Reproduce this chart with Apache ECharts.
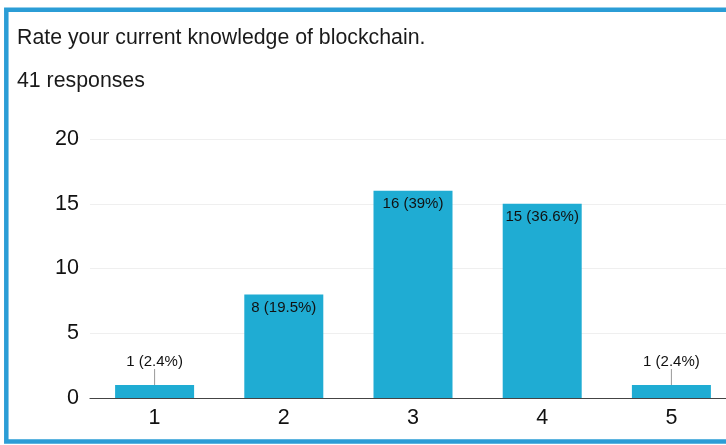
<!DOCTYPE html>
<html>
<head>
<meta charset="utf-8">
<script src="https://cdn.jsdelivr.net/npm/echarts@6/dist/echarts.min.js"></script>
<style>
  html, body { margin: 0; padding: 0; background: #fff; overflow: hidden; }
  /* the card is a little wider than the window; its right edge is cut off */
  #chart { width: 736px; height: 445px; }
</style>
</head>
<body>
<div id="chart"></div>
<script>
// Survey question and answer counts
const questionText = 'Rate your current knowledge of blockchain.';
const responseText = '41 responses';
const ratings = ['1', '2', '3', '4', '5'];
const counts = [1, 8, 16, 15, 1];
const percents = ['2.4', '19.5', '39', '36.6', '2.4'];
const yTicks = [0, 5, 10, 15, 20];

const FONT = '"Liberation Sans", Arial, Helvetica, sans-serif';
const BAR = '#1facd3';

const chart = echarts.init(document.getElementById('chart'), null, { renderer: 'canvas' });

// Short bars carry their label above, joined by a thin guide line
const barData = counts.map((v, i) => ({
  value: v,
  label: v < 3
    ? { position: 'top', distance: 2 }
    : { position: 'insideTop', distance: 6 }
}));

chart.setOption({
  animation: false,
  backgroundColor: '#fff',
  textStyle: { fontFamily: FONT },
  title: [
    { text: questionText, left: 12, top: 23,
      textStyle: { fontFamily: FONT, fontSize: 21.3, fontWeight: 'normal', color: '#1a1a1a' } },
    { text: responseText, left: 12, top: 66,
      textStyle: { fontFamily: FONT, fontSize: 21.3, fontWeight: 'normal', color: '#1a1a1a' } }
  ],
  graphic: [
    { type: 'rect', z: 100, silent: true,
      shape: { x: 6.3, y: 9.7, width: 900, height: 431.8 },
      style: { fill: 'none', stroke: '#2b9dd6', lineWidth: 4.5 } }
  ],
  grid: { left: 90, right: 0, top: 139, bottom: 47, containLabel: false },
  xAxis: {
    type: 'category',
    data: ratings,
    axisTick: { show: false },
    axisLine: { show: true, lineStyle: { color: '#444', width: 1.2 } },
    axisLabel: { fontFamily: FONT, fontSize: 21.5, color: '#111', margin: 9 },
    splitLine: { show: false }
  },
  yAxis: {
    type: 'value',
    min: yTicks[0],
    max: yTicks[yTicks.length - 1],
    interval: yTicks[1] - yTicks[0],
    axisLine: { show: false },
    axisTick: { show: false },
    axisLabel: { fontFamily: FONT, fontSize: 21.5, color: '#111', margin: 11 },
    splitLine: { show: true, lineStyle: { color: '#efefef', width: 1 } }
  },
  series: [{
    type: 'bar',
    data: barData,
    barWidth: 79,
    itemStyle: { color: BAR },
    label: {
      show: true,
      fontFamily: FONT,
      fontSize: 15,
      color: '#111',
      formatter: p => p.value + ' (' + percents[p.dataIndex] + '%)'
    },
    labelLayout: p => (counts[p.dataIndex] < 3 ? { dy: -14 } : {}),
    labelLine: { show: true, lineStyle: { color: '#999', width: 1 } }
  }]
});
</script>
</body>
</html>
